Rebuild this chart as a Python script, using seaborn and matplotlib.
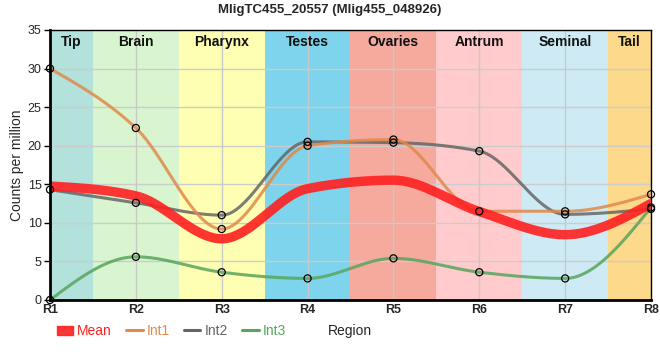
import numpy as np
import pandas as pd
import matplotlib
matplotlib.use("Agg")
import matplotlib.pyplot as plt
import seaborn as sns
from matplotlib.lines import Line2D
from matplotlib.patches import Patch

# data
regions = ["R1", "R2", "R3", "R4", "R5", "R6", "R7", "R8"]
int1 = [30.0, 22.3, 9.2, 20.0, 20.8, 11.5, 11.5, 13.7]
int2 = [14.3, 12.6, 11.0, 20.5, 20.4, 19.3, 11.1, 11.8]
int3 = [0.0, 5.6, 3.6, 2.8, 5.4, 3.6, 2.8, 12.0]
mean = list(np.mean([int1, int2, int3], axis=0))

tissues = ["Tip", "Brain", "Pharynx", "Testes", "Ovaries", "Antrum", "Seminal", "Tail"]
tissue_colors = ["#b3e1dc", "#d9f5cf", "#ffffb4", "#7dd4ec", "#f5aa9d",
                 "#ffcbcc", "#ceebf5", "#fdd98b"]

series_colors = {"Mean": "#ff2020", "Int1": "#e0894a", "Int2": "#666666", "Int3": "#58a55c"}


def monotone_curve(y, n=40):
    # d3-like monotoneX smoothing between the data points
    y = np.asarray(y, dtype=float)
    x = np.arange(len(y), dtype=float)
    s = np.diff(y)
    t = np.zeros(len(y))
    for i in range(1, len(y) - 1):
        s0, s1 = s[i - 1], s[i]
        p = (s0 + s1) / 2
        t[i] = (np.sign(s0) + np.sign(s1)) * min(abs(s0), abs(s1), 0.5 * abs(p))
    t[0] = (3 * s[0] - t[1]) / 2
    t[-1] = (3 * s[-1] - t[-2]) / 2
    xs, ys = [], []
    for i in range(len(y) - 1):
        u = np.linspace(0, 1, n, endpoint=(i == len(y) - 2))
        h00 = 2 * u**3 - 3 * u**2 + 1
        h10 = u**3 - 2 * u**2 + u
        h01 = -2 * u**3 + 3 * u**2
        h11 = u**3 - u**2
        xs.append(x[i] + u)
        ys.append(h00 * y[i] + h10 * t[i] + h01 * y[i + 1] + h11 * t[i + 1])
    return np.concatenate(xs), np.concatenate(ys)


rows = []
for name, vals in [("Int1", int1), ("Int2", int2), ("Int3", int3), ("Mean", mean)]:
    cx, cy = monotone_curve(vals)
    rows.append(pd.DataFrame({"x": cx, "y": cy, "series": name}))
curves = pd.concat(rows, ignore_index=True)

sns.set_style("white")
plt.rcParams["font.family"] = ["Liberation Sans", "DejaVu Sans"]

fig = plt.figure(figsize=(6.6, 3.6), dpi=100)
ax = fig.add_axes([50 / 660, 60 / 360, 601 / 660, 270 / 360])

# tissue bands
for i, (name, col) in enumerate(zip(tissues, tissue_colors)):
    lo = max(i - 0.5, 0)
    hi = min(i + 0.5, len(regions) - 1)
    ax.axvspan(lo, hi, color=col, lw=0, zorder=0)
    ax.text((lo + hi) / 2, 34.4, name, ha="center", va="top",
            fontsize=10, fontweight="bold", color="#111111", zorder=5)

for yv in range(5, 35, 5):
    ax.axhline(yv, color="#cccccc", lw=1, zorder=1)
for xv in range(1, len(regions) - 1):
    ax.axvline(xv, color="#c8c8c8", lw=1, zorder=1)

order = ["Mean", "Int1", "Int2", "Int3"]
widths = {"Mean": 6.8, "Int1": 2.2, "Int2": 2.2, "Int3": 2.2}
zorders = {"Mean": 3, "Int1": 2.6, "Int2": 2.5, "Int3": 2.4}
for name in order:
    sub = curves[curves["series"] == name]
    sns.lineplot(data=sub, x="x", y="y", ax=ax, color=series_colors[name],
                 lw=widths[name], alpha=0.9 if name == "Mean" else 0.85,
                 sort=False, estimator=None, legend=False, zorder=zorders[name])

xpos = np.arange(len(regions))
for vals in [int1, int2, int3]:
    ax.scatter(xpos, vals, s=26, facecolors="none", edgecolors="black",
               linewidths=0.9, zorder=4, clip_on=False)

ax.set_xlim(0, len(regions) - 1)
ax.set_ylim(0, 35)
ax.set_xticks(xpos)
ax.set_xticklabels(regions, fontsize=9, fontweight="bold")
ax.set_yticks(range(0, 36, 5))
ax.tick_params(axis="y", labelsize=9, length=4, width=1, left=True, color="black", pad=2)
ax.tick_params(axis="x", length=0, pad=3)
ax.set_xlabel("")
ax.set_ylabel("Counts per million", fontsize=10, labelpad=3)
for side in ["top", "right"]:
    ax.spines[side].set_linewidth(1)
    ax.spines[side].set_color("black")
for side in ["left", "bottom"]:
    ax.spines[side].set_linewidth(2)
    ax.spines[side].set_color("black")
    ax.spines[side].set_zorder(6)

fig.text(0.5, 1 - 10 / 360, "MligTC455_20557 (Mlig455_048926)", ha="center", va="center",
         fontsize=9.5, fontweight="bold")

handles = [Patch(color=series_colors["Mean"], alpha=0.9)] + \
          [Line2D([0], [0], color=series_colors[n], lw=2.2) for n in ["Int1", "Int2", "Int3"]]
leg = fig.legend(handles, order, loc="center left", bbox_to_anchor=(44 / 660, 1 - 331 / 360),
                 ncol=4, frameon=False, fontsize=10, handlelength=1.2, handleheight=0.6,
                 handletextpad=0.3, columnspacing=1.0)
for txt, name in zip(leg.get_texts(), order):
    txt.set_color(series_colors[name])
fig.text(350 / 660, 1 - 331 / 360, "Region", ha="center", va="center", fontsize=10)

fig.savefig("out.png", dpi=100)
